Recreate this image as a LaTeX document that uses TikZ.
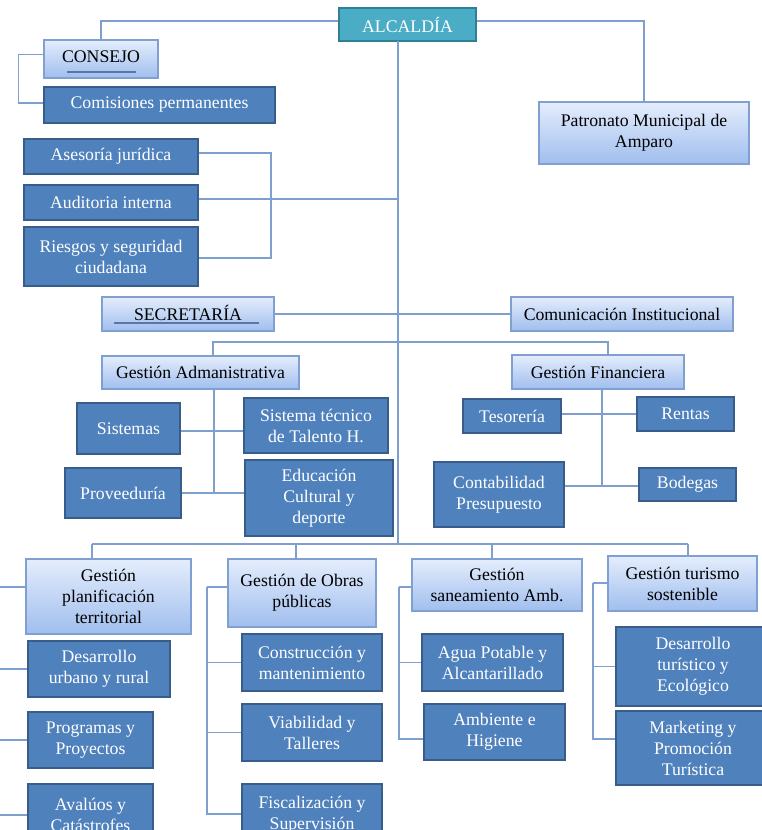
\documentclass[tikz,border=0pt]{standalone}
\usepackage{fontspec}
\setmainfont{Liberation Serif}
\usetikzlibrary{shadows}
\definecolor{dk}{RGB}{79,129,189}
\definecolor{dkb}{RGB}{56,93,138}
\definecolor{ltA}{RGB}{228,237,252}
\definecolor{ltB}{RGB}{160,190,238}
\definecolor{ltb}{RGB}{128,160,210}
\definecolor{alcf}{RGB}{75,172,198}
\definecolor{alcb}{RGB}{47,128,150}
\definecolor{cn}{RGB}{127,159,206}
\definecolor{ul}{RGB}{90,118,165}
\tikzset{
  base/.style={rectangle, inner sep=1pt, align=center,
    font=\fontsize{13.3}{15.8}\selectfont,
    drop shadow={opacity=0.22, shadow xshift=0.8pt, shadow yshift=-0.9pt}},
  dark/.style={base, fill=dk, draw=dkb, line width=1.4pt, text=white},
  light/.style={base, top color=ltA, bottom color=ltB, draw=ltb, line width=0.8pt, text=black},
  alcbox/.style={base, fill=alcf, draw=alcb, line width=1.4pt, text=white},
  conn/.style={draw=cn, line width=1.1pt},
  uline/.style={draw=ul, line width=0.8pt},
}
\newcommand{\boxat}[7]{\node[#1, minimum width={(#5-#3)*0.75pt}, minimum height={(#6-#4)*0.75pt}] (#2) at ({(#3+#5)/2},{(#4+#6)/2}) {#7};}
\begin{document}
\begin{tikzpicture}[x=0.75pt, y=-0.75pt]
\useasboundingbox (0,0) rectangle (761,830);
% junction coordinates
\coordinate (trT) at (398,41);
\coordinate (tr) at (398,544);
\coordinate (bk) at (271,0);
\coordinate (gaT) at (213,342);
\coordinate (gfT) at (608,342);
\coordinate (gaV) at (214,492);
\coordinate (gfV) at (602,486);
\coordinate (b1) at (92,544);
\coordinate (b2) at (296,544);
\coordinate (b3) at (492,544);
\coordinate (b4) at (688,544);
\coordinate (pv) at (-3,587);
\coordinate (pb) at (-3,815);
\coordinate (ov) at (207,587);
\coordinate (ob) at (207,814);
\coordinate (sv) at (399,587);
\coordinate (sb) at (399,739);
\coordinate (tv) at (593,583);
\coordinate (tb) at (593,739);

% boxes
\boxat{alcbox}{alc}{339}{8}{476}{41}{ALCALDÍA}
\boxat{light}{cons}{44}{40}{158}{78}{\raisebox{3pt}{CONSEJO}}
\boxat{dark}{com}{44}{87}{275}{123}{Comisiones permanentes}
\boxat{light}{pat}{539}{102}{749}{164}{Patronato Municipal de\\Amparo}
\boxat{dark}{ase}{24}{139}{198}{174}{Asesoría jurídica}
\boxat{dark}{aud}{24}{185}{198}{220}{Auditoria interna}
\boxat{dark}{rie}{24}{227}{198}{286}{Riesgos y seguridad\\ciudadana}
\boxat{light}{sec}{102}{297}{274}{331}{\raisebox{1.5pt}{SECRETARÍA}}
\boxat{light}{comu}{511}{297}{733}{331}{Comunicación Institucional}
\boxat{light}{ga}{102}{356}{299}{389}{Gestión Admanistrativa}
\boxat{light}{gf}{512}{355}{684}{389}{Gestión Financiera}
\boxat{dark}{sis}{77}{403}{180}{454}{Sistemas}
\boxat{dark}{stt}{244}{398}{388}{453}{Sistema técnico\\de Talento H.}
\boxat{dark}{prov}{65}{468}{181}{518}{Proveeduría}
\boxat{dark}{edu}{245}{460}{393}{536}{Educación\\Cultural y\\deporte}
\boxat{dark}{tes}{463}{399}{561}{433}{Tesorería}
\boxat{dark}{ren}{637}{397}{734}{431}{Rentas}
\boxat{dark}{con}{434}{462}{564}{527}{Contabilidad\\Presupuesto}
\boxat{dark}{bod}{639}{468}{736}{501}{Bodegas}
\boxat{light}{gpt}{26}{559}{191}{634}{Gestión\\planificación\\territorial}
\boxat{light}{gop}{228}{559}{376}{627}{Gestión de Obras\\públicas}
\boxat{light}{gsa}{412}{559}{582}{611}{Gestión\\saneamiento Amb.}
\boxat{light}{gts}{608}{556}{757}{611}{Gestión turismo\\sostenible}
\boxat{dark}{dur}{28}{641}{170}{697}{Desarrollo\\urbano y rural}
\boxat{dark}{pyp}{28}{712}{153}{768}{Programas y\\Proyectos}
\boxat{dark}{ava}{28}{784}{153}{846}{Avalúos y\\Catástrofes}
\boxat{dark}{cym}{242}{634}{382}{691}{Construcción y\\mantenimiento}
\boxat{dark}{vyt}{242}{704}{382}{761}{Viabilidad y\\Talleres}
\boxat{dark}{fys}{242}{784}{382}{846}{Fiscalización y\\Supervisión}
\boxat{dark}{apa}{422}{634}{563}{691}{Agua Potable y\\Alcantarillado}
\boxat{dark}{aeh}{424}{704}{565}{760}{Ambiente e\\Higiene}
\boxat{dark}{dte}{616}{627}{770}{706}{Desarrollo\\turístico y\\Ecológico}
\boxat{dark}{mpt}{616}{711}{770}{785}{Marketing y\\Promoción\\Turística}

% underlines
\draw[uline] (67,72) -- (136,72);
\draw[uline] (114,323) -- (259,323);

% connectors
\draw[conn] ([yshift=2.6pt]alc.west) -| (cons.north);
\draw[conn] ([yshift=2.6pt]alc.east) -| (pat.north);
\draw[conn] (trT) -- (tr);
\draw[conn] ([yshift=3.5pt]cons.west) -- ++(-25,0) |- ([yshift=1.5pt]com.west);
\draw[conn] ([yshift=2.5pt]ase.east) -| ([yshift=-1pt]rie.east -| bk) -- ([yshift=-1pt]rie.east);
\draw[conn] ([yshift=2.5pt]aud.east) -- ([yshift=2.5pt]aud.east -| tr);
\draw[conn] (sec.east) -- (comu.west);
\draw[conn] (ga.north -| gaT) -- (gaT) -- (gfT) -- (gf.north -| gfT);
\draw[conn] (ga.south -| gaV) -- (gaV);
\draw[conn] ([yshift=-2pt]sis.east) -- ([yshift=-2pt]sis.east -| stt.west);
\draw[conn] (prov.east) -- (prov.east -| edu.west);
\draw[conn] (gf.south -| gfV) -- (gfV);
\draw[conn] ([yshift=1.5pt]tes.east) -- ([yshift=1.5pt]tes.east -| ren.west);
\draw[conn] ([yshift=-1pt]bod.west) -- ([yshift=-1pt]bod.west -| con.east);
\draw[conn] (b1) -- (b4);
\draw[conn] (b1) -- (gpt.north -| b1);
\draw[conn] (b2) -- (gop.north -| b2);
\draw[conn] (b3) -- (gsa.north -| b3);
\draw[conn] (b4) -- (gts.north -| b4);
\draw[conn] (pv) -- (pv -| gpt.west);
\draw[conn] (pv) -- (pb);
\draw[conn] (dur.west -| pv) -- (dur.west);
\draw[conn] (pyp.west -| pv) -- (pyp.west);
\draw[conn] (ava.west -| pv) -- (ava.west);
\draw[conn] (ov) -- (ov -| gop.west);
\draw[conn] (ov) -- (ob) -- (ob -| fys.west);
\draw[conn] (cym.west -| ov) -- (cym.west);
\draw[conn] (vyt.west -| ov) -- (vyt.west);
\draw[conn] (sv) -- (sv -| gsa.west);
\draw[conn] (sv) -- (sb) -- (sb -| aeh.west);
\draw[conn] (apa.west -| sv) -- (apa.west);
\draw[conn] (tv) -- (tv -| gts.west);
\draw[conn] (tv) -- (tb) -- (tb -| mpt.west);
\draw[conn] (dte.west -| tv) -- (dte.west);
\end{tikzpicture}
\end{document}
